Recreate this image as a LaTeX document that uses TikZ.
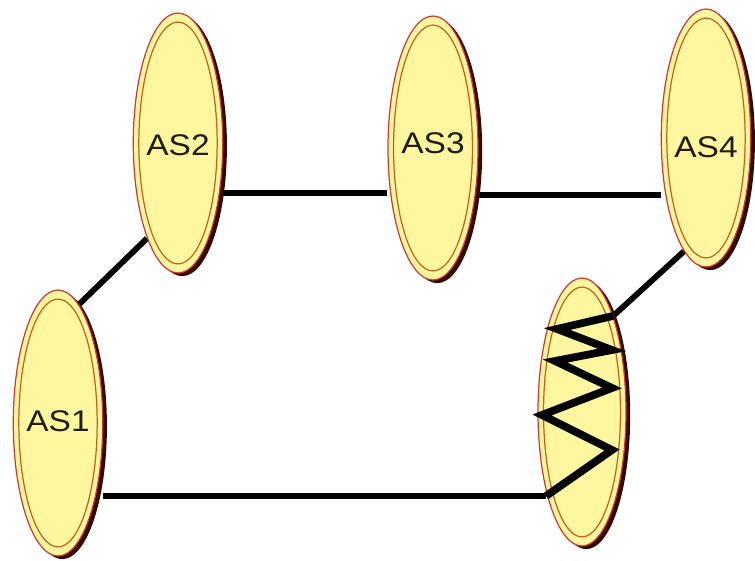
\documentclass[tikz,border=0pt]{standalone}
\usepackage{fontspec}
\setmainfont{Liberation Sans}
\usetikzlibrary{shapes.geometric,shadows,backgrounds,calc}
\definecolor{asfill}{RGB}{255,246,160}
\definecolor{asedge}{RGB}{200,60,50}
\definecolor{asring}{RGB}{190,100,30}
\definecolor{asshade}{RGB}{50,10,0}
\definecolor{astext}{RGB}{30,30,15}
\newcommand{\aslabel}[2]{\raisebox{#1}[\height][\depth]{\scalebox{1.12}[1]{#2}}}
\tikzset{
	as/.style={ellipse, fill=asfill, draw=asedge, line width=0.7pt, inner sep=0pt, text=astext,
		font=\fontsize{17}{19}\selectfont,
		drop shadow={shadow xshift=2.4pt, shadow yshift=-1.8pt, fill=asshade, opacity=1}},
	link/.style={line width=3.3pt, black},
	zigzag/.style={line width=4.4pt, black}
}
\begin{document}
\begin{tikzpicture}[x=0.02cm, y=-0.02cm, line join=miter]
	\useasboundingbox (0,0) rectangle (755,561);
	\node[as, minimum width=1.76cm, minimum height=5.32cm] (AS1) at (58,423) {\aslabel{0.8pt}{AS1}};
	\node[as, minimum width=1.72cm, minimum height=5.2cm] (AS2) at (178,143) {\aslabel{-1.5pt}{AS2}};
	\node[as, minimum width=1.8cm, minimum height=5.28cm] (AS3) at (433,148) {\aslabel{2.8pt}{AS3}};
	\node[as, minimum width=1.76cm, minimum height=5.16cm] (AS4) at (706,138) {\aslabel{-5.5pt}{AS4}};
	\node[as, minimum width=1.76cm, minimum height=5.36cm] (AS5) at (582,412) {};
	\foreach \asname in {AS1,AS2,AS3,AS4,AS5}
		\draw[asring, line width=0.7pt] let \p1=(\asname.center), \p2=(\asname.east), \p3=(\asname.south) in
			(\p1) ellipse [x radius=\x2-\x1-3.5pt, y radius=\y1-\y3-5.5pt];
	\draw[zigzag, shift={(AS5.center)}] (AS5.72) -- (-25,-83) -- (30,-62) -- (-27,-51) -- (30,-24)
		-- (-40,3) -- (30,38) -- (-36,84) coordinate (zigend);
	\begin{scope}[on background layer]
		\draw[link] (AS1.80) -- (AS2.252);
		\draw[link] (AS2.-50) -- (AS2.-50 -| AS3.west);
		\draw[link] (AS3.-48) -- (AS3.-48 -| AS4.west);
		\draw[link] (AS4.259) -- (AS5.72);
		\draw[link] (zigend) -- (zigend -| AS1.east);
	\end{scope}
\end{tikzpicture}
\end{document}
